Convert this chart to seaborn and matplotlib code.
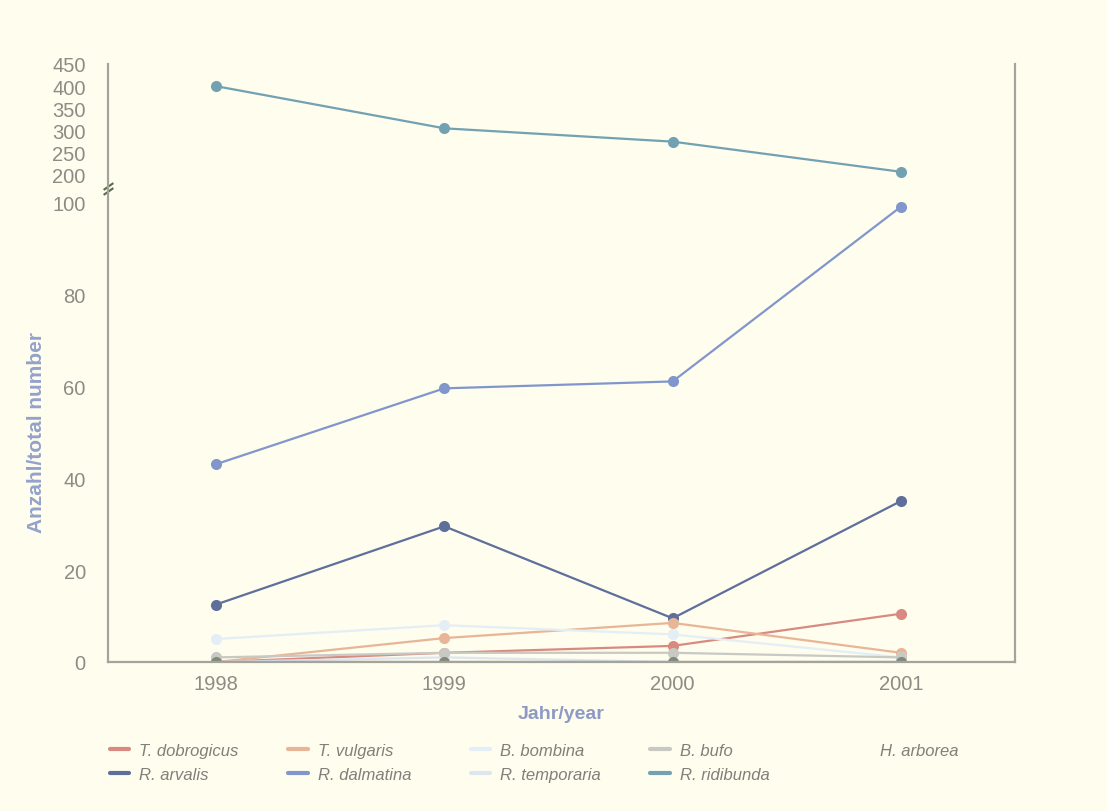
import numpy as np
import pandas as pd
import matplotlib
matplotlib.use("Agg")
import matplotlib.pyplot as plt
import matplotlib.transforms as mtransforms
import seaborn as sns

years = [1998, 1999, 2000, 2001]
species = ["T. dobrogicus", "R. arvalis", "T. vulgaris", "R. dalmatina",
           "B. bombina", "R. temporaria", "B. bufo", "R. ridibunda", "H. arborea"]
t_dobrogicus = [0, 2, 3.5, 10.5]
r_arvalis = [12.5, 29.5, 9.5, 35]
t_vulgaris = [0, 5.2, 8.5, 2]
r_dalmatina = [43, 59.5, 61, 99]
b_bombina = [5, 8, 6, 1]
r_temporaria = [0, 1, 0, 0]
b_bufo = [1, 2, 2, 1]
r_ridibunda = [400, 305, 275, 207]
h_arborea = [0, 0, 0, 0]
values = [t_dobrogicus, r_arvalis, t_vulgaris, r_dalmatina, b_bombina,
          r_temporaria, b_bufo, r_ridibunda, h_arborea]
yticks = [0, 20, 40, 60, 80, 100, 200, 250, 300, 350, 400, 450]

colors = ["#d98a80", "#5f6f9c", "#e8b596", "#8197cc", "#e4eef6",
          "#dde6ee", "#c9c9c4", "#72a2b2", "#7f8a7c"]

df = pd.DataFrame({
    "year": np.tile(years, len(species)),
    "count": np.concatenate(values),
    "species": np.repeat(species, len(years)),
})

sns.set_theme(style="white")
plt.rcParams["font.family"] = ["Liberation Sans", "DejaVu Sans"]
bg = "#fefdee"

fig = plt.figure(figsize=(11.07, 8.12), dpi=100, facecolor=bg)
ax = fig.add_axes([0.0976, 0.1835, 0.8194, 0.7365])
ax.set_facecolor(bg)

def fwd(v):
    v = np.asarray(v, dtype=float)
    return np.where(v <= 100, v,
                    np.where(v >= 200, 105.9 + (v - 200) * 0.0965,
                             100 + (v - 100) * 0.059))

def inv(u):
    u = np.asarray(u, dtype=float)
    return np.where(u <= 100, u,
                    np.where(u >= 105.9, 200 + (u - 105.9) / 0.0965,
                             100 + (u - 100) / 0.059))

ax.set_yscale("function", functions=(fwd, inv))

palette = dict(zip(species, colors))
sns.lineplot(data=df, x="year", y="count", hue="species", hue_order=species,
             palette=palette, marker="o", markersize=8, markeredgewidth=0,
             linewidth=1.6, ax=ax, legend=True)

ax.set_xlim(1997.527, 2001.5)
ax.set_ylim(0, 450)
ax.set_xticks(years)
ax.set_xticklabels([str(y) for y in years])
ax.set_yticks(yticks)
ax.set_yticklabels([str(t) for t in yticks])
ax.tick_params(axis="both", length=0, labelsize=14.5, labelcolor="#8c8c86", pad=9)
ax.tick_params(axis="y", pad=16)

for s in ["left", "right", "bottom"]:
    ax.spines[s].set_color("#a4a49c")
    ax.spines[s].set_linewidth(1.6)
ax.spines["top"].set_visible(False)

ax.set_xlabel("Jahr/year", fontsize=14, fontweight="bold", color="#8e9ac4", labelpad=8)
ax.set_ylabel("Anzahl/total number", fontsize=15, fontweight="bold", color="#93a2cc")
ax.yaxis.set_label_coords(-0.068, 0.385)

# axis break marker
bt = mtransforms.blended_transform_factory(ax.transAxes, ax.transData)
ax.plot([0, 0], [142, 158], transform=bt, lw=0, marker=[(-1, -0.7), (1, 0.7)],
        markersize=7, mec="#556b4a", mew=1.5, clip_on=False)

handles, labels = ax.get_legend_handles_labels()
ax.get_legend().remove()
for h in handles:
    h.set_marker("")
    h.set_linewidth(3)

# legend columns (column-major pairs)
col_x = [0.089, 0.250, 0.415, 0.577, 0.758]
groups = [[0, 1], [2, 3], [4, 5], [6, 7], [8]]
for cx, g in zip(col_x, groups):
    leg = fig.legend([handles[i] for i in g], [labels[i] for i in g], ncol=1,
                     loc="upper left", bbox_to_anchor=(cx, 0.098),
                     frameon=False, handlelength=1.15, handletextpad=0.6,
                     labelspacing=0.55, borderpad=0.2,
                     prop={"family": "Liberation Sans", "style": "italic", "size": 12})
    for t in leg.get_texts():
        t.set_color("#80807a")
    if g == [8]:
        leg.legend_handles[0].set_visible(False)

fig.savefig("out.png", dpi=100, facecolor=bg)
